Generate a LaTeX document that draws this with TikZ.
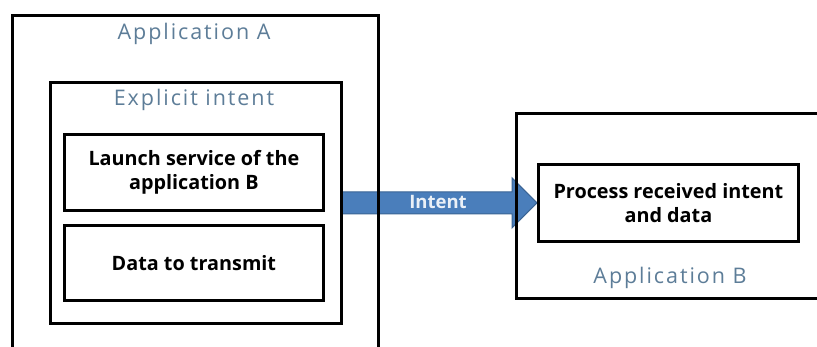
\documentclass[tikz,border=0pt]{standalone}
\usepackage{fontspec}
\setmainfont{Open Sans}
\newfontfamily\labelfont[LetterSpace=9]{Open Sans}
\usetikzlibrary{calc,backgrounds}
\definecolor{labelblue}{HTML}{5D7D98}
\definecolor{arrowblue}{HTML}{4A7EBB}
\definecolor{arrowedge}{HTML}{3A6494}
\definecolor{intenttext}{HTML}{EAF0F7}
\tikzset{
  box/.style={draw=black, line width=2.8pt, rectangle, anchor=north west, inner sep=0pt},
  caption/.style={text=labelblue, font=\labelfont\fontsize{21.5}{24}\selectfont, inner sep=0pt},
  boxtext/.style={font=\bfseries\fontsize{19.8}{24}\selectfont, align=center, inner sep=0pt},
  bigarrow/.style={fill=arrowblue, draw=arrowedge, line width=1pt, line join=miter},
  arrowlabel/.style={text=intenttext, font=\bfseries\fontsize{18.5}{20}\selectfont, inner sep=0pt}
}
\begin{document}
\begin{tikzpicture}[x=1pt, y=-1pt]
  \useasboundingbox (0,0) rectangle (817,347);

  % Application A (continues below the lower edge)
  \node[box, minimum width=366pt, minimum height=360pt] (appA) at (11,14) {};
  \node[caption] (appAlabel) at (194,34) {Application A};

  % Explicit intent container and its two parts
  \node[box, minimum width=291pt, minimum height=241pt] (explicit) at (49,81) {};
  \node[caption] (explicitlabel) at (194,100) {Explicit intent};
  \node[box, minimum width=259pt, minimum height=76pt] (launch) at (63,133) {};
  \node[boxtext] (launchtext) at (launch.center) {Launch service of the\\application B};
  \node[box, minimum width=259pt, minimum height=75pt] (data) at (63,224) {};
  \node[boxtext] (datatext) at (data.center) {Data to transmit};

  % Application B (continues past the right edge)
  \node[box, minimum width=320pt, minimum height=185pt] (appB) at (515,112) {};
  \node[box, minimum width=260pt, minimum height=77pt] (process) at (537,163) {};
  \node[boxtext] (processtext) at (process.center) {Process received intent\\and data};
  \node[caption] (appBlabel) at (670,278) {Application B};

  % White page and the block arrow carrying the intent, behind the box outlines
  \begin{scope}[on background layer]
    \fill[white] (0,0) rectangle (817,347);
    \draw[bigarrow]
      ($(explicit.east)+(-2,-11)$) -- ($(process.west)+(-25,-11)$)
      -- ($(process.west)+(-25,-25)$) -- (process.west)
      -- ($(process.west)+(-25,25)$) -- ($(process.west)+(-25,11)$)
      -- ($(explicit.east)+(-2,11)$) -- cycle;
  \end{scope}
  \node[arrowlabel] (intentlabel) at (438,202) {Intent};
\end{tikzpicture}
\end{document}
